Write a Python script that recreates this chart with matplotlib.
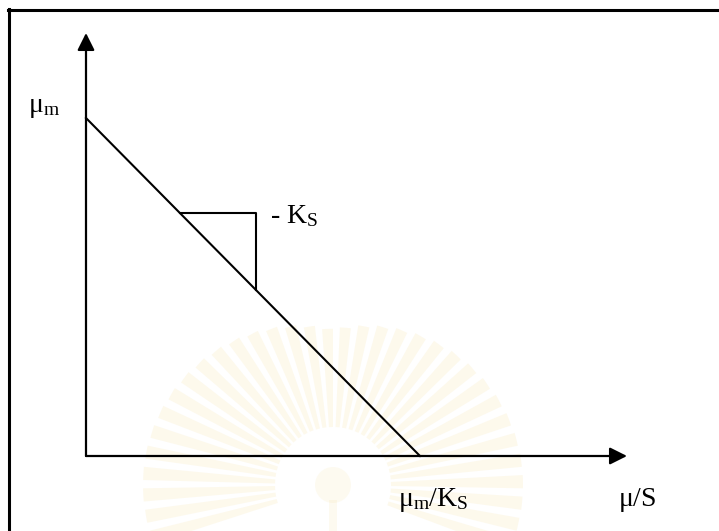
import numpy as np
import matplotlib.pyplot as plt
from matplotlib.patches import Wedge
from matplotlib.lines import Line2D

plt.rcParams['font.family'] = ['Liberation Serif', 'DejaVu Serif']
plt.rcParams['mathtext.fontset'] = 'custom'
plt.rcParams['mathtext.rm'] = 'Liberation Serif'
plt.rcParams['mathtext.it'] = 'Liberation Serif:italic'

# Lineweaver-Burk style plot: mu/S against mu, intercepts mu_m and mu_m/Ks
mu_m = 1.0
K_s = 1.0
x_line = [0.0, mu_m / K_s]
y_line = [mu_m, 0.0]
# slope triangle drawn on the line
tri_x = [0.28, 0.51]

W, H = 719, 531
fig = plt.figure(figsize=(W / 100, H / 100), dpi=100)

# faint emblem in the background (pixel coords, y pointing down)
bg = fig.add_axes([0, 0, 1, 1])
bg.set_xlim(0, W)
bg.set_ylim(H, 0)
bg.axis('off')
cx, cy = 333, 485
for ang in np.arange(-196, 20, 6.5):
    # rays get longer towards the sides
    r_out = 155 + 35 * abs(np.cos(np.radians(ang)))
    bg.add_patch(Wedge((cx, cy), r_out, ang - 2.0, ang + 2.0, width=r_out - 58,
                       facecolor='#f2d272', edgecolor='none', alpha=0.13))
bg.add_patch(Wedge((cx, cy), 18, 0, 360, facecolor='#f2d272', edgecolor='none', alpha=0.10))
bg.add_patch(plt.Rectangle((cx - 4, cy + 15), 8, 50, facecolor='#f2d272',
                           edgecolor='none', alpha=0.10))

# page border (top and left edges)
fig.add_artist(Line2D([8.5 / W, 8.5 / W], [0, 1 - 9 / H], color='black', lw=2.2,
                      transform=fig.transFigure))
fig.add_artist(Line2D([8 / W, 1], [1 - 9.5 / H, 1 - 9.5 / H], color='black', lw=2.2,
                      transform=fig.transFigure))

x0_px, y0_px = 86, 456
px_x, px_y = 334, 338
x_max, y_max = (627 - x0_px) / px_x, (y0_px - 33) / px_y
ax = fig.add_axes([x0_px / W, (H - y0_px) / H,
                   (627 - x0_px) / W, (y0_px - 33) / H])
ax.set_xlim(0, x_max)
ax.set_ylim(0, y_max)
ax.axis('off')

arrow = dict(arrowstyle='-|>', color='black', lw=1.6, mutation_scale=26,
             shrinkA=0, shrinkB=0)
ax.annotate('', xy=(x_max, 0), xytext=(0, 0), arrowprops=arrow, annotation_clip=False)
ax.annotate('', xy=(0, y_max), xytext=(0, 0), arrowprops=arrow, annotation_clip=False)

ax.plot(x_line, y_line, color='black', lw=1.5, clip_on=False)

ty = [mu_m - mu_m * K_s / mu_m * t for t in tri_x]
ax.plot([tri_x[0], tri_x[1], tri_x[1]], [ty[0], ty[0], ty[1]],
        color='black', lw=1.5, clip_on=False)

fs = 20
ax.text(-0.125, mu_m + 0.03, r'$\mathrm{\mu_m}$', fontsize=fs, ha='center', va='center')
ax.text(tri_x[1] + 0.04, ty[0] - 0.01, r'- $\mathrm{K_S}$', fontsize=fs, ha='left', va='center')
ax.text(mu_m / K_s + 0.04, -0.13, r'$\mathrm{\mu_m/K_S}$', fontsize=fs, ha='center', va='center')
ax.text(x_max + 0.03, -0.13, r'$\mathrm{\mu/S}$', fontsize=fs, ha='center', va='center')

fig.savefig('out.png', dpi=100)
